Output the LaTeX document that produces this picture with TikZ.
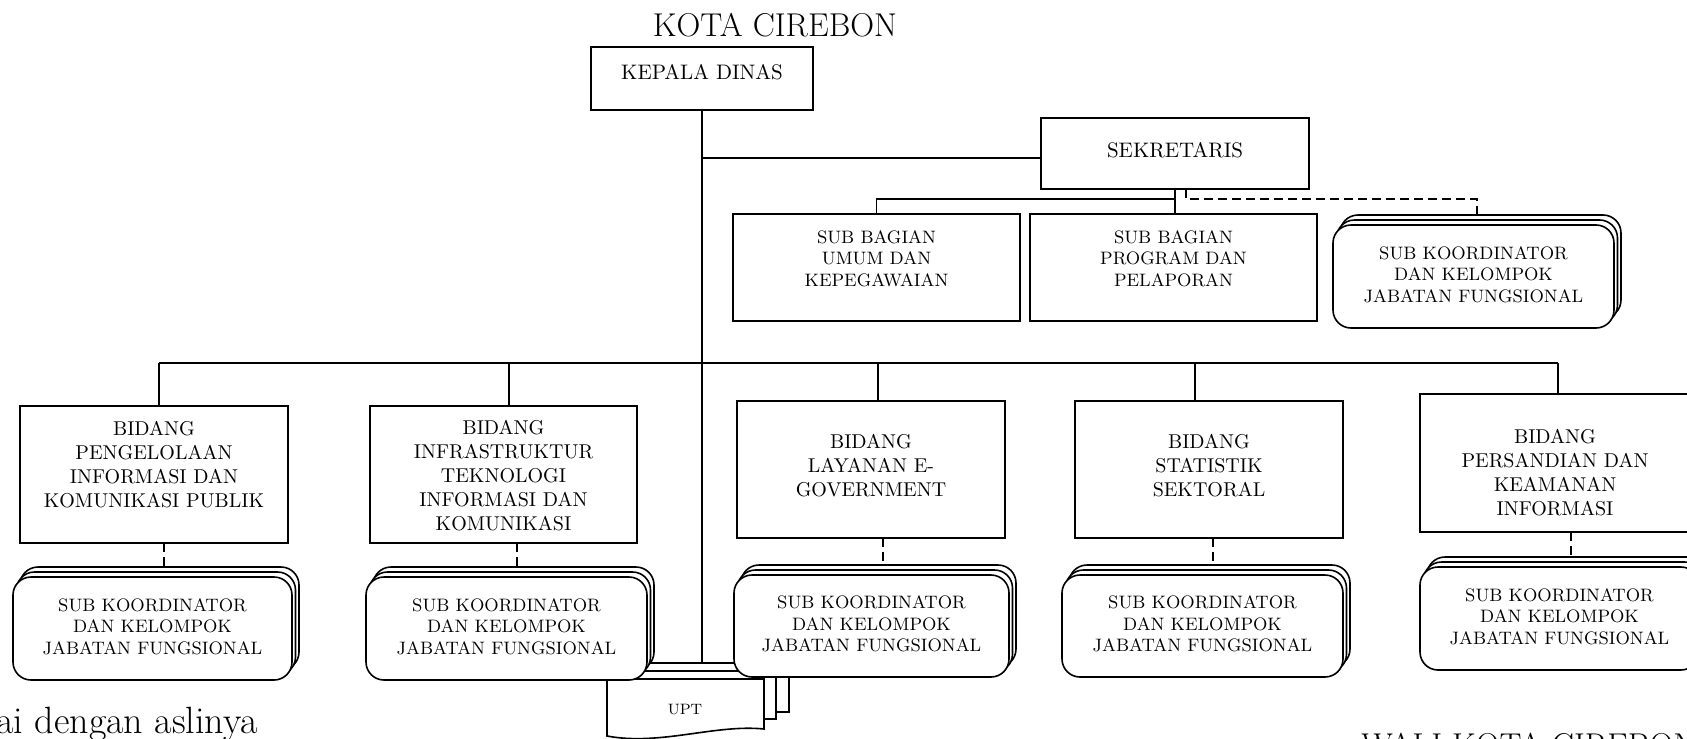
\documentclass[tikz,border=0pt]{standalone}
\usetikzlibrary{calc}
\tikzset{
  ln/.style={line width=0.8pt},
  bx/.style={draw, line width=0.8pt, fill=white, inner sep=0pt, outer sep=0pt},
  rbx/.style={bx, rounded corners=9pt},
  dsh/.style={line width=0.8pt, dash pattern=on 4.5pt off 2.5pt},
  bidtxt/.style={font=\fontsize{10}{12}\selectfont, align=center, inner sep=0pt},
  subtxt/.style={font=\fontsize{9}{10.8}\selectfont, align=center, inner sep=0pt},
}
\newcommand\mkbox[6]{%
  \pgfmathsetmacro\bw{((#4)-(#2))*0.5}%
  \pgfmathsetmacro\bh{((#5)-(#3))*0.5}%
  \node[#6, minimum width=\bw pt, minimum height=\bh pt] (#1) at ({((#2)+(#4))/2},{((#3)+(#5))/2}) {};}
\newcommand\mkstack[5]{%
  \mkbox{#1c}{#2+7}{#3-10}{#4+7}{#5-10}{rbx}%
  \mkbox{#1b}{#2+3.5}{#3-5}{#4+3.5}{#5-5}{rbx}%
  \mkbox{#1}{#2}{#3}{#4}{#5}{rbx}}
\begin{document}
\begin{tikzpicture}[x=0.5pt,y=-0.5pt]
\useasboundingbox (0,0) rectangle (1687,739);

% ---------- coordinates for connectors ----------
\coordinate (j1) at (702,158);
\coordinate (j2) at (1175,199);
\coordinate (d0) at (1186,189);
\coordinate (d1) at (1477,199);
\coordinate (c1) at (159,363);
\coordinate (c2) at (509,363);
\coordinate (c3) at (878,363);
\coordinate (c4) at (1195,363);
\coordinate (c5) at (1558,363);
\coordinate (k1) at (164,543);
\coordinate (k2) at (517,543);
\coordinate (k3) at (883,538);
\coordinate (k4) at (1213,538);
\coordinate (k5) at (1571,532);

% ---------- title ----------
\node[font=\fontsize{16.5}{19}\selectfont, inner sep=0pt] (title) at (775,25.5) {KOTA CIREBON};

% ---------- top boxes ----------
\mkbox{kd}{591}{47}{813}{110}{bx}
\node[font=\fontsize{10.5}{12}\selectfont, inner sep=0pt] (kdt) at (702,72) {KEPALA DINAS};
\mkbox{sek}{1041}{118}{1309}{189}{bx}
\mkbox{sbu}{733}{214}{1020}{321}{bx}
\mkbox{sbp}{1030}{214}{1317}{321}{bx}
\mkbox{b1}{20}{406}{288}{543}{bx}
\mkbox{b2}{370}{406}{637}{543}{bx}
\mkbox{b3}{737}{401}{1005}{538}{bx}
\mkbox{b4}{1075}{401}{1343}{538}{bx}
\mkbox{b5}{1420}{394}{1690}{532}{bx}

% UPT back sheet (named for the main line end)
\mkbox{u3}{632}{663}{789}{712}{bx}

% ---------- connectors ----------
\draw[ln] (kd.south) -- (kd.south |- u3.north);
\draw[ln] (j1) -- (j1 -| sek.west);
\draw[ln] (sek.south) -- (sek.south |- sbp.north);
\draw[ln] (j2) -| (sbu.north);
\draw[ln] (c1) -- (c5);
\draw[ln] (c1) -- (c1 |- b1.north);
\draw[ln] (c2) -- (c2 |- b2.north);
\draw[ln] (c3) -- (c3 |- b3.north);
\draw[ln] (c4) -- (c4 |- b4.north);
\draw[ln] (c5) -- (c5 |- b5.north);

% ---------- UPT ----------
\mkbox{u3}{632}{663}{789}{712}{bx}
\mkbox{u2}{619}{671}{776}{719}{bx}
\draw[ln, fill=white] (607,679) -- (764,679) -- (764,729)
  .. controls (715,724) and (660,746) .. (607,736) -- cycle;
\node[font=\fontsize{7.5}{9}\selectfont, inner sep=0pt] (upt) at (685,710) {UPT};

% ---------- sub koordinator stacks ----------
\mkstack{skt}{1333}{225}{1614}{328}
\mkstack{s1}{13}{577}{292}{680}
\mkstack{s2}{366}{577}{647}{680}
\mkstack{s3}{734}{575}{1009}{677}
\mkstack{s4}{1062}{575}{1343}{677}
\mkstack{s5}{1420}{567}{1699}{670}

% dashed links
\draw[dsh] (d0) |- (d1) -- (d1 |- sktc.north);
\draw[dsh] (k1) -- (k1 |- s1c.north);
\draw[dsh] (k2) -- (k2 |- s2c.north);
\draw[dsh] (k3) -- (k3 |- s3c.north);
\draw[dsh] (k4) -- (k4 |- s4c.north);
\draw[dsh] (k5) -- (k5 |- s5c.north);

% ---------- texts ----------
\node[font=\fontsize{10.5}{12}\selectfont, inner sep=0pt] (sekt) at ([yshift=1.5pt]sek.center) {SEKRETARIS};
\node[subtxt] (sbut) at ([yshift=4.5pt]sbu.center) {SUB BAGIAN\\UMUM DAN\\KEPEGAWAIAN};
\node[subtxt] (sbpt) at ([yshift=4.5pt]sbp.center) {SUB BAGIAN\\PROGRAM DAN\\PELAPORAN};

\node[bidtxt] (b1t) at ([yshift=4.75pt]b1.center) {BIDANG\\PENGELOLAAN\\INFORMASI DAN\\KOMUNIKASI PUBLIK};
\node[bidtxt] (b2t) at ([yshift=-0.5pt]b2.center) {BIDANG\\INFRASTRUKTUR\\TEKNOLOGI\\INFORMASI DAN\\KOMUNIKASI};
\node[bidtxt] (b3t) at ([yshift=1.75pt]b3.center) {BIDANG\\LAYANAN E-\\GOVERNMENT};
\node[bidtxt] (b4t) at ([yshift=1.75pt]b4.center) {BIDANG\\STATISTIK\\SEKTORAL};
\node[bidtxt] (b5t) at ([yshift=-4.75pt]b5.center) {BIDANG\\PERSANDIAN DAN\\KEAMANAN\\INFORMASI};

\node[subtxt] (sktt) at ([yshift=1pt]skt.center) {SUB KOORDINATOR\\DAN KELOMPOK\\JABATAN FUNGSIONAL};
\node[subtxt] (s1t) at ([yshift=1pt]s1.center) {SUB KOORDINATOR\\DAN KELOMPOK\\JABATAN FUNGSIONAL};
\node[subtxt] (s2t) at ([yshift=1pt]s2.center) {SUB KOORDINATOR\\DAN KELOMPOK\\JABATAN FUNGSIONAL};
\node[subtxt] (s3t) at ([yshift=1pt]s3.center) {SUB KOORDINATOR\\DAN KELOMPOK\\JABATAN FUNGSIONAL};
\node[subtxt] (s4t) at ([yshift=1pt]s4.center) {SUB KOORDINATOR\\DAN KELOMPOK\\JABATAN FUNGSIONAL};
\node[subtxt] (s5t) at ([yshift=1pt]s5.center) {SUB KOORDINATOR\\DAN KELOMPOK\\JABATAN FUNGSIONAL};

% ---------- bottom texts (cut by the frame, as in the reference) ----------
\node[font=\fontsize{19}{22}\selectfont, anchor=base west, inner sep=0pt] (sesuai) at (-4,733) {ai dengan aslinya};
\node[font=\fontsize{16.5}{19}\selectfont, anchor=base west, inner sep=0pt] (wali) at (1361,756) {WALI KOTA CIREBON};
\end{tikzpicture}
\end{document}
